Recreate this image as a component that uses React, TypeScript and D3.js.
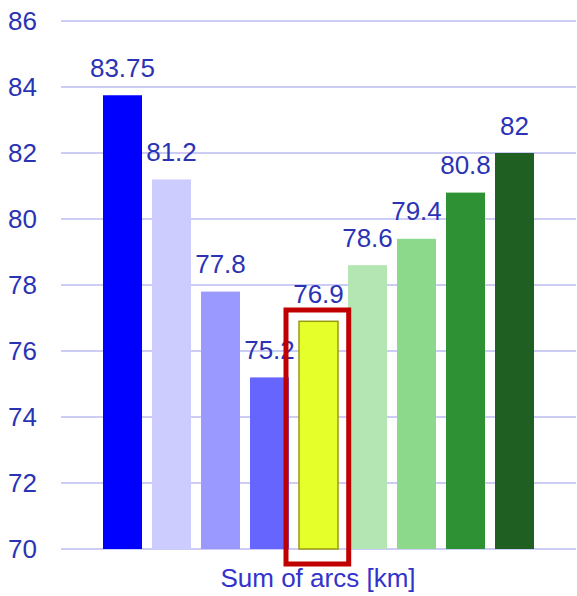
import React from "react";
import * as d3 from "d3";

const categories = ["A", "B", "C", "D", "E", "F", "G", "H", "I"];
const values = [83.75, 81.2, 77.8, 75.2, 76.9, 78.6, 79.4, 80.8, 82];
const valueLabels = ["83.75", "81.2", "77.8", "75.2", "76.9", "78.6", "79.4", "80.8", "82"];
const barColors = ["#0000ff", "#ccccff", "#9999ff", "#6666ff", "#e5ff2b", "#b3e6b3", "#8cd98c", "#2e9133", "#1f5f22"];
const yTicks = [70, 72, 74, 76, 78, 80, 82, 84, 86];
const axisTitle = "Sum of arcs [km]";
const highlightIndex = 4;

const W = 577;
const H = 596;
const FONT = "'Liberation Sans', Arial, sans-serif";
const TEXT = "#2b33b5";

export default function App() {
  const x = d3
    .scaleBand<string>()
    .domain(categories)
    .range([98, 539])
    .paddingInner(10 / 49)
    .paddingOuter(5 / 49);
  const y = d3.scaleLinear().domain([70, 86]).range([549, 21]);
  const bw = x.bandwidth();

  const hx = x(categories[highlightIndex])!;
  const hTop = y(values[highlightIndex]);

  return (
    <svg
      width={W}
      height={H}
      style={{ position: "absolute", left: 0, top: 0, background: "#fff" }}
      fontFamily={FONT}
    >
      {yTicks.map((t) => (
        <g key={t}>
          <line x1={61} x2={576} y1={y(t)} y2={y(t)} stroke="#ccccf5" strokeWidth={2} />
          <text x={8} y={y(t)} dy="0.35em" fontSize={26} fill={TEXT}>
            {t}
          </text>
        </g>
      ))}
      {categories.map((c, i) => {
        const bx = x(c)!;
        const top = y(values[i]);
        const isHi = i === highlightIndex;
        return (
          <g key={c}>
            <rect
              x={bx}
              y={top}
              width={bw}
              height={y(70) - top}
              fill={barColors[i]}
              stroke={isHi ? "#9a9a12" : "none"}
              strokeWidth={isHi ? 1.5 : 0}
            />
            <text x={bx + bw / 2} y={top - 18.5} textAnchor="middle" fontSize={26} fill={TEXT}>
              {valueLabels[i]}
            </text>
          </g>
        );
      })}
      <rect
        x={hx - 13}
        y={hTop - 11.3}
        width={bw + 23.7}
        height={y(70) + 15 - (hTop - 11.3)}
        fill="none"
        stroke="#c00000"
        strokeWidth={5}
      />
      <text x={318} y={587} textAnchor="middle" fontSize={26} fill="#3333cc">
        {axisTitle}
      </text>
    </svg>
  );
}
